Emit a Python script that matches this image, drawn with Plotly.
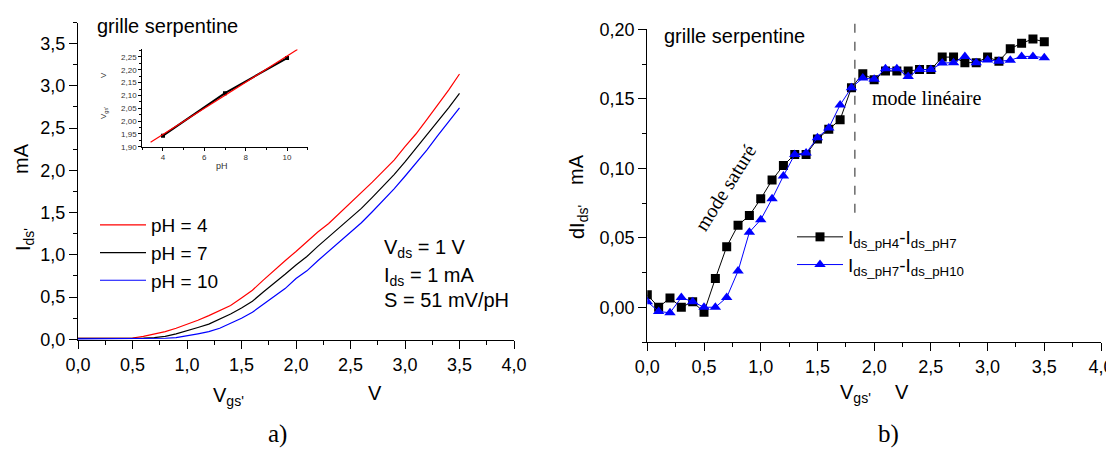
import plotly.graph_objects as go

W, H = 1114, 450
OFF = 8                      # page body margin in the browser
FW, FH = W - OFF, H - OFF    # figure size so that it fits in the window
def X(p): return (p - OFF) / FW
def Y(p): return 1 - (p - OFF) / FH

# ---------------- data ----------------
vgs = [round(0.1 * i, 1) for i in range(36)]

ids_ph4 = [0.01, 0.01, 0.01, 0.015, 0.012, 0.015, 0.035, 0.06, 0.09, 0.13,
           0.175, 0.225, 0.28, 0.34, 0.40, 0.49, 0.58, 0.70, 0.82, 0.93,
           1.04, 1.16, 1.27, 1.37, 1.49, 1.61, 1.73, 1.86, 1.99, 2.12,
           2.28, 2.43, 2.60, 2.77, 2.95, 3.14]
ids_ph7 = [0.01, 0.01, 0.01, 0.01, 0.01, 0.012, 0.013, 0.02, 0.035, 0.065,
           0.10, 0.14, 0.18, 0.24, 0.30, 0.37, 0.45, 0.56, 0.66, 0.77,
           0.88, 0.98, 1.10, 1.21, 1.33, 1.44, 1.55, 1.68, 1.81, 1.95,
           2.10, 2.26, 2.42, 2.57, 2.74, 2.91]
ids_ph10 = [0.005, 0.005, 0.005, 0.005, 0.005, 0.005, 0.005, 0.008, 0.012, 0.02,
            0.04, 0.065, 0.09, 0.13, 0.19, 0.25, 0.32, 0.41, 0.51, 0.60,
            0.72, 0.81, 0.93, 1.04, 1.16, 1.27, 1.38, 1.51, 1.64, 1.78,
            1.93, 2.08, 2.24, 2.41, 2.57, 2.74]

d_4_7 = [0.009, 0.000, 0.0067, 0.000, 0.004, -0.0036, 0.0207, 0.0436, 0.059, 0.066,
         0.078, 0.0915, 0.102, 0.110, 0.110, 0.121, 0.128, 0.135, 0.158, 0.168,
         0.1637, 0.170, 0.170, 0.170, 0.171, 0.171, 0.180, 0.180, 0.176, 0.176,
         0.180, 0.177, 0.186, 0.190, 0.193, 0.191]
d_7_10 = [0.004, -0.003, -0.004, 0.007, 0.004, 0.000, 0.000, 0.007, 0.026, 0.054,
          0.063, 0.078, 0.0945, 0.110, 0.111, 0.122, 0.129, 0.1456, 0.158, 0.165,
          0.164, 0.1716, 0.1716, 0.166, 0.171, 0.171, 0.1757, 0.176, 0.1805, 0.176,
          0.178, 0.177, 0.1777, 0.1805, 0.1805, 0.1796]

inset_ph = [4, 7, 10]
inset_vgs = [1.943, 2.109, 2.246]
fit_ph = [3.4, 10.5]
fit_vgs = [1.917, 2.279]

vline_x = 1.83
vline_y = [0.068, 0.209]

# ---------------- figure ----------------
fig = go.Figure()
SANS = "Liberation Sans"
SERIF = "Liberation Serif"

fig.add_trace(go.Scatter(x=vgs, y=ids_ph4, mode="lines", name="pH = 4",
                         line=dict(color="#ff0000", width=1.2), xaxis="x", yaxis="y", legend="legend"))
fig.add_trace(go.Scatter(x=vgs, y=ids_ph7, mode="lines", name="pH = 7",
                         line=dict(color="#000000", width=1.2), xaxis="x", yaxis="y", legend="legend"))
fig.add_trace(go.Scatter(x=vgs, y=ids_ph10, mode="lines", name="pH = 10",
                         line=dict(color="#0000ff", width=1.2), xaxis="x", yaxis="y", legend="legend"))

# inset
fig.add_trace(go.Scatter(x=inset_ph, y=inset_vgs, mode="lines+markers", showlegend=False,
                         line=dict(color="black", width=2), marker=dict(symbol="square", size=4, color="black"),
                         xaxis="x3", yaxis="y3"))
fig.add_trace(go.Scatter(x=fit_ph, y=fit_vgs, mode="lines", showlegend=False,
                         line=dict(color="#ff0000", width=1.2), xaxis="x3", yaxis="y3"))

# right
fig.add_trace(go.Scatter(x=vgs, y=d_4_7, mode="lines+markers",
                         name="I<sub>ds_pH4</sub>-I<sub>ds_pH7</sub>",
                         line=dict(color="black", width=1), marker=dict(symbol="square", size=9, color="black"),
                         xaxis="x2", yaxis="y2", legend="legend2"))
fig.add_trace(go.Scatter(x=vgs, y=d_7_10, mode="lines+markers",
                         name="I<sub>ds_pH7</sub>-I<sub>ds_pH10</sub>",
                         line=dict(color="#0000ff", width=1), marker=dict(symbol="triangle-up", size=10, color="#0000ff"),
                         xaxis="x2", yaxis="y2", legend="legend2"))

def ax(**kw):
    d = dict(showline=True, linecolor="black", linewidth=1.3, ticks="outside", ticklen=8,
             tickwidth=1.2, tickcolor="black", showgrid=False, zeroline=False,
             tickfont=dict(family=SANS, size=18, color="black"))
    d.update(kw)
    return d

minor_main = dict(ticks="outside", ticklen=4, tickcolor="black", tickwidth=1)

y2_dom = [Y(342), Y(29.3)]
y2_rng = [-0.025, 0.20]
def y2p(v):
    return y2_dom[0] + (v - y2_rng[0]) / (y2_rng[1] - y2_rng[0]) * (y2_dom[1] - y2_dom[0])

fig.update_layout(
    width=FW, height=FH,
    margin=dict(l=0, r=0, t=0, b=0, autoexpand=False),
    paper_bgcolor="white", plot_bgcolor="rgba(0,0,0,0)",
    separators=", ",
    font=dict(family=SANS, color="black"),
    xaxis=ax(domain=[X(78), X(514)], range=[0, 4], dtick=0.5, tick0=0, tickformat=".1f",
             minor=dict(dtick=0.25, **minor_main), anchor="y"),
    yaxis=ax(domain=[Y(340.3), Y(22.5)], range=[-0.012, 3.75], dtick=0.5, tick0=0, tickformat=".1f",
             minor=dict(dtick=0.25, **minor_main), anchor="x"),
    xaxis2=ax(domain=[X(647.3), X(1101)], range=[0, 4], dtick=0.5, tick0=0, tickformat=".1f",
              minor=dict(dtick=0.25, **minor_main), anchor="y2"),
    yaxis2=ax(domain=y2_dom, range=y2_rng, dtick=0.05, tick0=0, tickformat=".2f",
              minor=dict(dtick=0.025, **minor_main), anchor="x2"),
    xaxis3=ax(domain=[X(142.3), X(307.7)], range=[3, 11], dtick=2, tick0=0, ticklen=3, linewidth=1,
              tickwidth=1, tickfont=dict(family=SANS, size=8, color="#333"),
              minor=dict(dtick=1, ticks="outside", ticklen=2, tickcolor="black", tickwidth=1), anchor="y3"),
    yaxis3=ax(domain=[Y(146.7), Y(49.3)], range=[1.90, 2.28], dtick=0.05, tick0=1.9, tickformat=".2f",
              ticklen=3, linewidth=1, tickwidth=1, tickfont=dict(family=SANS, size=8, color="#333"),
              minor=dict(dtick=0.025, ticks="outside", ticklen=2, tickcolor="black", tickwidth=1), anchor="x3"),
    legend=dict(x=X(95), y=Y(206), xanchor="left", yanchor="top", bgcolor="rgba(0,0,0,0)",
                font=dict(family=SANS, size=19, color="black"), tracegroupgap=0, itemwidth=46),
    legend2=dict(x=X(792), y=Y(218), xanchor="left", yanchor="top", bgcolor="rgba(0,0,0,0)",
                 font=dict(family=SANS, size=19, color="black"), tracegroupgap=0, itemwidth=46),
)

fig.add_shape(type="line", xref="x2", yref="paper", x0=vline_x, x1=vline_x,
              y0=y2p(vline_y[0]), y1=y2p(vline_y[1]),
              line=dict(color="#444", width=1.2, dash="dash"))

def note(text, px, py, size=20, family=SANS, angle=0, xanchor="center", yanchor="middle", color="black"):
    fig.add_annotation(text=text, x=X(px), y=Y(py), xref="paper", yref="paper", showarrow=False,
                       xanchor=xanchor, yanchor=yanchor, textangle=angle,
                       font=dict(family=family, size=size, color=color))

# left panel texts
note("grille serpentine", 95, 26, xanchor="left")
note("V<sub>ds</sub> = 1 V", 382, 249, xanchor="left")
note("I<sub>ds</sub> = 1 mA", 382, 276, xanchor="left")
note("S = 51 mV/pH", 382, 300, xanchor="left")
note("mA", 21, 159, angle=-90)
note("I<sub>ds'</sub>", 24, 240, angle=-90)
note("V<sub>gs'</sub>", 228, 396)
note("V", 375, 393)
note("a)", 277, 434, size=25, family=SERIF)
# inset titles
note("V", 103, 75, size=8, angle=-90, color="#333")
note("V<sub>gs'</sub>", 104, 113, size=8, angle=-90, color="#333")
note("pH", 222, 166, size=9, color="#333")

# right panel texts
note("grille serpentine", 662, 36, xanchor="left")
note("mode linéaire", 870, 98, family=SERIF, xanchor="left")
note("mode saturé", 725, 188, family=SERIF, angle=-58)
note("mA", 576, 170, angle=-90)
note("dI<sub>ds'</sub>", 578, 222, angle=-90)
note("V<sub>gs'</sub>", 855, 393)
note("V", 902, 392)
note("b)", 888, 434, size=25, family=SERIF)

fig.write_html("out.html")
